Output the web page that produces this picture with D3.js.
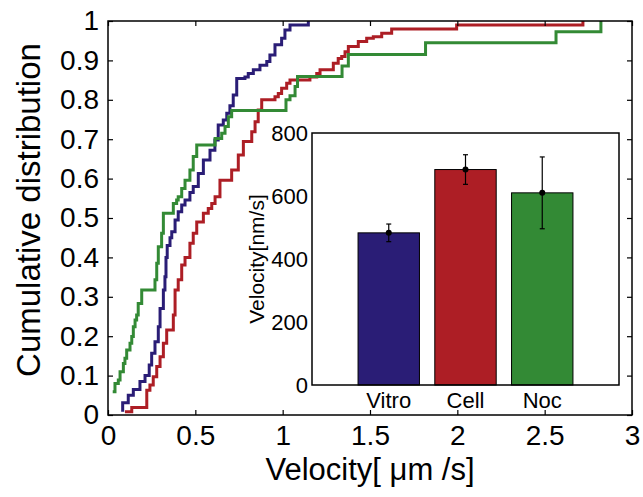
<!DOCTYPE html>
<html>
<head>
<meta charset="utf-8">
<script src="https://cdn.jsdelivr.net/npm/d3@7"></script>
<style>
body { margin: 0; background: #fff; }
text { font-family: "Liberation Sans", Arial, Helvetica, sans-serif; fill: #000; }
.axis line { stroke: #000; stroke-width: 1.2; }
.axis path { display: none; }
</style>
</head>
<body>
<script>
// cumulative distributions, velocity in um/s and cumulative fraction
var vitroV = [0.084, 0.084, 0.116, 0.145, 0.183, 0.212, 0.236, 0.250, 0.269, 0.288, 0.298, 0.317, 0.326, 0.332, 0.339, 0.355, 0.365, 0.384, 0.402, 0.422, 0.441, 0.469, 0.488, 0.517, 0.546, 0.584, 0.612, 0.631, 0.660, 0.680, 0.698, 0.717, 0.737, 0.784, 0.803, 0.832, 0.870, 0.909, 0.927, 0.956, 0.994, 1.013, 1.042, 1.147];
var vitroF = [0.008, 0.031, 0.050, 0.065, 0.085, 0.100, 0.127, 0.157, 0.186, 0.224, 0.270, 0.317, 0.351, 0.400, 0.430, 0.450, 0.465, 0.495, 0.516, 0.533, 0.546, 0.565, 0.580, 0.613, 0.647, 0.672, 0.698, 0.736, 0.749, 0.766, 0.785, 0.812, 0.854, 0.858, 0.867, 0.876, 0.888, 0.897, 0.914, 0.940, 0.956, 0.977, 0.990, 1.000];

var cellV = [0.097, 0.136, 0.222, 0.240, 0.259, 0.279, 0.298, 0.317, 0.336, 0.374, 0.384, 0.402, 0.422, 0.441, 0.469, 0.488, 0.508, 0.546, 0.574, 0.594, 0.613, 0.641, 0.708, 0.746, 0.775, 0.823, 0.842, 0.860, 0.880, 0.956, 0.975, 0.994, 1.023, 1.042, 1.156, 1.195, 1.214, 1.290, 1.318, 1.338, 1.357, 1.376, 1.433, 1.481, 1.519, 1.567, 1.624, 1.996, 2.719];
var cellF = [0.008, 0.019, 0.063, 0.076, 0.097, 0.123, 0.148, 0.182, 0.216, 0.254, 0.317, 0.343, 0.381, 0.400, 0.436, 0.461, 0.490, 0.512, 0.524, 0.537, 0.554, 0.596, 0.622, 0.660, 0.694, 0.719, 0.744, 0.774, 0.800, 0.808, 0.816, 0.829, 0.842, 0.850, 0.858, 0.867, 0.876, 0.893, 0.905, 0.910, 0.922, 0.935, 0.948, 0.956, 0.960, 0.969, 0.980, 0.990, 1.000];

var nocV = [0.027, 0.040, 0.059, 0.069, 0.088, 0.097, 0.107, 0.126, 0.136, 0.145, 0.155, 0.164, 0.173, 0.193, 0.269, 0.279, 0.288, 0.307, 0.317, 0.374, 0.393, 0.402, 0.422, 0.441, 0.469, 0.488, 0.508, 0.613, 0.651, 0.670, 0.689, 0.708, 1.019, 1.042, 1.071, 1.085, 1.340, 1.376, 1.818, 2.565, 2.822];
var nocF = [0.059, 0.080, 0.089, 0.110, 0.131, 0.144, 0.165, 0.182, 0.199, 0.224, 0.241, 0.254, 0.283, 0.317, 0.343, 0.385, 0.427, 0.461, 0.512, 0.537, 0.546, 0.554, 0.575, 0.596, 0.622, 0.656, 0.685, 0.702, 0.715, 0.732, 0.757, 0.773, 0.800, 0.810, 0.834, 0.859, 0.886, 0.915, 0.945, 0.973, 1.000];

// inset bar chart, mean velocity in nm/s with error
var groups = ["Vitro", "Cell", "Noc"];
var meanVel = [483, 684, 610];
var errVel = [28, 47, 114];
var colors = ["#2a1d76", "#ad1e25", "#338a35"];

var xTicks = [0, 0.5, 1, 1.5, 2, 2.5, 3];
var yTicks = [0, 0.1, 0.2, 0.3, 0.4, 0.5, 0.6, 0.7, 0.8, 0.9, 1];
var insetTicks = [0, 200, 400, 600, 800];

var margin = {top: 21, right: 11, bottom: 82, left: 108},
    width = 643 - margin.left - margin.right,
    height = 497 - margin.top - margin.bottom;

var root = d3.select("body").append("svg")
    .attr("width", 643)
    .attr("height", 497);

var svg = root.append("g")
    .attr("transform", "translate(" + margin.left + "," + margin.top + ")");

var x = d3.scaleLinear().domain([0, 3]).range([0, width]);
var y = d3.scaleLinear().domain([0, 1]).range([height, 0]);

var series = [
    {name: "Vitro", v: vitroV, f: vitroF, color: colors[0]},
    {name: "Cell", v: cellV, f: cellF, color: colors[1]},
    {name: "Noc", v: nocV, f: nocF, color: colors[2]}
];

var line = d3.line()
    .x(d => x(d[0]))
    .y(d => y(d[1]))
    .curve(d3.curveStepAfter);

svg.selectAll(".cdf")
    .data(series)
    .enter()
    .append("path")
    .attr("class", "cdf")
    .attr("fill", "none")
    .attr("stroke", d => d.color)
    .attr("stroke-width", 3)
    .attr("d", d => line(d.v.map((v, i) => [v, d.f[i]])));

// axes, ticks pointing inwards on all four sides
svg.append("g")
    .attr("class", "axis")
    .attr("transform", "translate(0," + height + ")")
    .style("font-size", "28px")
    .call(d3.axisBottom(x).tickValues(xTicks).tickSizeInner(-5).tickSizeOuter(0)
        .tickPadding(10).tickFormat(d => d));

svg.append("g")
    .attr("class", "axis")
    .call(d3.axisTop(x).tickValues(xTicks).tickSizeInner(-5).tickSizeOuter(0).tickFormat(""));

svg.append("g")
    .attr("class", "axis")
    .style("font-size", "28px")
    .call(d3.axisLeft(y).tickValues(yTicks).tickSizeInner(-5).tickSizeOuter(0)
        .tickPadding(9).tickFormat(d => d));

svg.append("g")
    .attr("class", "axis")
    .attr("transform", "translate(" + width + ",0)")
    .call(d3.axisRight(y).tickValues(yTicks).tickSizeInner(-5).tickSizeOuter(0).tickFormat(""));

svg.selectAll(".axis text").attr("font-family", null);

svg.append("rect")
    .attr("width", width)
    .attr("height", height)
    .attr("fill", "none")
    .attr("stroke", "#000")
    .attr("stroke-width", 1.5);

svg.append("text")
    .attr("x", width / 2)
    .attr("y", height + 65)
    .attr("text-anchor", "middle")
    .style("font-size", "31px")
    .text("Velocity[ \u03bcm /s]");

svg.append("text")
    .attr("transform", "translate(" + (-68) + "," + (height / 2 - 8) + ") rotate(-90)")
    .attr("text-anchor", "middle")
    .style("font-size", "33px")
    .text("Cumulative distribution");

//========================================================================
// inset

var inset = {left: 312, top: 133, width: 307, height: 252};

var ig = root.append("g")
    .attr("transform", "translate(" + inset.left + "," + inset.top + ")");

ig.append("rect")
    .attr("width", inset.width)
    .attr("height", inset.height)
    .attr("fill", "#fff");

var xb = d3.scaleBand()
    .domain(groups)
    .range([0, inset.width])
    .paddingInner(0.2)
    .paddingOuter(0.6);

var yb = d3.scaleLinear().domain([0, 800]).range([inset.height, 0]);

ig.selectAll(".bar")
    .data(groups)
    .enter()
    .append("rect")
    .attr("class", "bar")
    .attr("x", d => xb(d))
    .attr("y", (d, i) => yb(meanVel[i]))
    .attr("width", xb.bandwidth())
    .attr("height", (d, i) => yb(0) - yb(meanVel[i]))
    .attr("fill", (d, i) => colors[i])
    .attr("stroke", "#000")
    .attr("stroke-width", 1);

var cap = 2.5;
var err = ig.selectAll(".err")
    .data(groups)
    .enter()
    .append("g")
    .attr("class", "err")
    .attr("transform", d => "translate(" + (xb(d) + xb.bandwidth() / 2) + ",0)");

err.append("line")
    .attr("y1", (d, i) => yb(meanVel[i] + errVel[i]))
    .attr("y2", (d, i) => yb(meanVel[i] - errVel[i]))
    .attr("stroke", "#000")
    .attr("stroke-width", 1.2);
err.append("line")
    .attr("x1", -cap).attr("x2", cap)
    .attr("y1", (d, i) => yb(meanVel[i] + errVel[i]))
    .attr("y2", (d, i) => yb(meanVel[i] + errVel[i]))
    .attr("stroke", "#000")
    .attr("stroke-width", 1.2);
err.append("line")
    .attr("x1", -cap).attr("x2", cap)
    .attr("y1", (d, i) => yb(meanVel[i] - errVel[i]))
    .attr("y2", (d, i) => yb(meanVel[i] - errVel[i]))
    .attr("stroke", "#000")
    .attr("stroke-width", 1.2);
err.append("circle")
    .attr("cy", (d, i) => yb(meanVel[i]))
    .attr("r", 3)
    .attr("fill", "#000");

ig.append("g")
    .attr("class", "axis")
    .style("font-size", "22px")
    .call(d3.axisLeft(yb).tickValues(insetTicks).tickSize(0).tickPadding(4));

ig.append("g")
    .attr("class", "axis")
    .attr("transform", "translate(0," + inset.height + ")")
    .style("font-size", "22px")
    .call(d3.axisBottom(xb).tickSize(0).tickPadding(7));

ig.selectAll(".axis text").attr("font-family", null);

ig.append("rect")
    .attr("width", inset.width)
    .attr("height", inset.height)
    .attr("fill", "none")
    .attr("stroke", "#000")
    .attr("stroke-width", 1.5);

ig.append("text")
    .attr("transform", "translate(" + (-48) + "," + (inset.height / 2) + ") rotate(-90)")
    .attr("text-anchor", "middle")
    .style("font-size", "21px")
    .text("Velocity[nm/s]");
</script>
</body>
</html>
